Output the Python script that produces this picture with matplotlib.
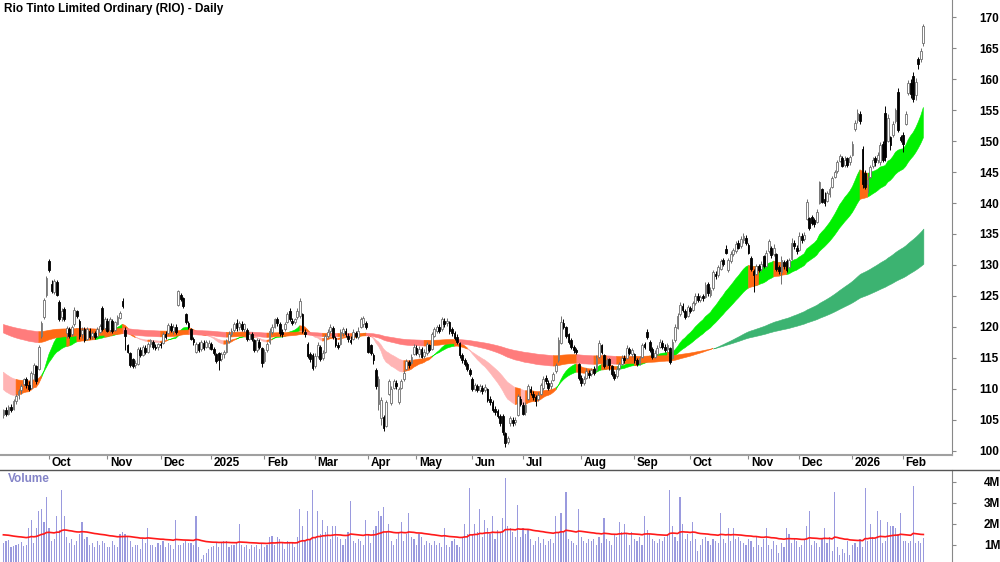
import numpy as np
import pandas as pd
import matplotlib
matplotlib.use('Agg')
import matplotlib.pyplot as plt
from matplotlib.lines import Line2D

plt.rcParams['font.family'] = ['Liberation Sans', 'DejaVu Sans']

title = 'Rio Tinto Limited Ordinary (RIO) - Daily'
start_date, end_date = '2024-09-05', '2026-02-12'
# ASX market holidays in the range
holidays = ['2024-12-25', '2024-12-26', '2025-01-01', '2025-01-27', '2025-04-18',
            '2025-04-21', '2025-04-25', '2025-06-09', '2025-12-25', '2025-12-26',
            '2026-01-01', '2026-01-26']

# daily OHLC
opens = [
    105.8,106.5,106.0,107.0,106.8,108.0,109.0,109.8,110.8,111.5,110.6,110.2,112.4,113.6,113.2,118.6,121.6,125.1,130.6,
    127.0,125.6,127.2,124.0,121.6,122.9,119.0,119.6,118.8,120.5,122.5,121.0,118.8,119.6,118.0,119.4,118.5,119.0,118.5,119.2,123.0,119.8,121.0,
    119.5,121.0,119.5,120.5,121.5,124.2,119.5,117.0,115.8,114.8,113.8,114.0,116.2,115.5,116.6,116.0,117.3,117.6,116.8,116.7,117.2,
    117.4,118.8,119.0,120.2,119.3,120.0,123.6,125.2,124.6,122.0,120.6,119.6,118.0,116.0,117.2,116.4,117.4,116.8,116.8,
    117.2,116.4,115.6,115.8,114.8,115.6,116.0,117.7,118.8,119.5,120.6,119.9,120.5,119.6,119.5,118.1,118.8,117.8,116.3,117.6,116.6,
    114.5,116.3,117.6,119.2,120.0,121.3,120.5,119.2,119.6,120.8,122.6,121.0,120.8,121.6,121.8,122.0,119.2,117.2,115.6,115.5,
    113.6,115.3,116.8,115.0,116.0,118.5,119.4,119.8,118.2,117.0,117.2,119.0,119.4,118.6,117.8,118.0,119.0,118.4,120.0,120.4,120.6,
    118.4,117.0,115.4,113.0,107.6,105.2,105.4,104.0,109.2,107.7,110.2,111.0,107.8,110.2,111.5,113.2,114.3,114.2,115.6,116.6,115.6,
    116.4,115.3,115.8,117.0,116.4,118.6,119.4,120.0,119.6,121.0,120.6,120.8,119.6,119.0,118.4,117.4,115.4,114.6,114.0,113.0,
    111.6,110.0,110.4,109.8,110.2,109.8,110.0,108.4,107.8,106.8,106.4,105.6,105.6,102.8,101.4,104.4,105.0,104.6,105.8,108.4,107.4,
    106.2,108.4,110.0,109.2,108.6,108.4,109.2,110.2,111.8,111.0,110.4,111.4,112.8,114.6,117.4,120.6,120.0,118.8,117.8,116.8,116.2,114.0,111.8,
    111.0,111.8,112.6,112.4,113.2,113.0,115.2,117.0,115.4,114.0,114.8,113.6,112.4,112.0,113.4,114.0,115.0,115.0,116.4,115.6,115.6,
    114.6,114.2,115.2,117.2,119.2,117.6,116.4,115.2,115.6,116.8,117.4,116.8,116.4,116.6,115.0,117.8,119.8,122.0,123.4,122.6,121.8,
    123.0,122.8,123.8,125.0,124.4,125.0,124.8,127.0,125.2,126.2,128.6,128.4,129.4,130.8,132.6,129.2,130.6,131.8,132.2,133.6,133.0,134.0,134.4,
    133.2,131.2,129.0,128.6,129.8,129.4,131.4,129.8,132.2,132.8,131.8,131.8,129.6,128.8,130.4,130.6,129.6,131.0,133.6,132.8,
    132.4,134.6,134.2,137.4,137.6,137.8,137.2,137.0,140.0,142.2,140.6,140.4,141.4,142.6,144.2,145.2,146.8,147.2,146.2,147.2,146.6,147.8,152.0,
    153.4,154.4,148.8,144.8,143.0,144.2,146.0,147.2,147.0,146.6,149.6,154.6,150.0,150.6,151.0,153.2,158.0,150.6,151.0,152.8,157.8,
    159.4,160.6,157.4,163.2,163.2,165.8]
highs = [
    106.8,107.0,107.3,107.6,108.3,109.2,110.0,110.8,111.8,111.9,111.2,112.8,114.2,113.8,117.0,121.0,124.6,128.2,131.0,
    127.5,127.8,127.5,124.3,123.0,123.2,120.1,120.0,120.3,123.2,122.8,121.2,119.9,119.9,119.9,119.8,119.4,119.3,119.9,120.5,123.4,121.6,121.4,
    121.6,121.3,121.0,121.9,122.5,124.6,120.0,117.2,116.0,115.0,114.6,116.8,116.7,117.1,117.0,117.5,118.0,117.9,117.3,117.4,117.6,
    119.2,119.4,120.7,120.6,120.5,120.4,126.0,125.5,124.9,122.3,121.0,119.8,118.4,117.6,117.5,117.9,117.8,117.9,117.8,
    117.6,116.8,115.8,116.0,116.0,116.3,118.0,119.3,119.8,120.8,121.2,121.0,121.0,120.7,119.8,119.2,119.2,118.0,118.2,118.0,116.8,
    116.5,117.6,119.8,120.4,121.5,121.6,120.8,119.6,120.8,122.4,123.0,121.4,121.5,123.0,124.6,122.3,119.6,117.5,116.0,115.8,
    115.7,117.5,117.0,116.2,118.9,119.6,120.4,120.2,118.6,117.5,119.6,120.0,119.8,119.0,118.5,119.6,119.4,119.9,121.6,121.8,121.0,
    118.6,117.3,115.8,113.3,112.0,108.6,105.7,108.2,111.5,110.4,111.6,111.4,110.3,111.5,113.0,114.8,114.7,115.6,117.2,117.0,116.9,
    116.8,116.4,117.5,117.3,119.2,119.9,120.3,120.4,121.6,121.5,121.4,121.0,120.0,119.4,118.8,117.6,115.8,115.0,114.4,113.4,
    111.9,110.9,110.8,110.8,110.6,110.7,110.2,108.8,108.2,107.2,106.8,106.0,106.0,103.0,102.4,105.6,105.4,105.4,109.2,108.8,107.8,
    107.8,110.7,110.4,109.6,109.0,109.4,111.0,112.0,112.2,111.4,111.4,112.7,114.2,118.3,121.8,121.3,120.2,119.0,118.2,117.0,116.6,114.2,112.2,
    112.0,113.3,113.0,113.4,113.6,115.4,117.8,117.2,115.6,115.0,115.0,113.8,112.8,113.6,114.4,115.4,115.4,117.0,116.8,116.6,115.8,
    115.0,115.3,117.4,117.6,119.6,117.8,116.8,116.2,117.0,118.0,117.8,117.2,117.4,116.8,118.0,120.4,122.2,124.0,123.9,122.9,123.6,
    123.4,124.2,125.4,125.5,125.2,125.3,127.2,127.3,126.4,129.2,129.0,130.0,131.0,131.2,133.2,131.2,132.2,132.8,133.8,134.0,134.6,135.2,134.8,
    133.6,131.4,129.4,130.2,130.2,130.6,131.6,132.4,134.2,133.0,133.4,132.0,130.0,131.4,130.8,130.9,131.2,134.3,134.0,133.2,
    135.3,135.2,135.4,140.6,137.8,138.0,137.6,139.0,143.6,142.4,141.8,142.0,142.6,144.4,145.4,147.0,148.0,147.6,147.6,147.4,147.8,150.0,153.4,
    155.2,154.8,149.2,145.4,144.4,146.2,147.4,147.6,148.2,149.8,150.0,155.6,154.4,150.8,153.2,155.4,158.6,151.0,151.4,154.8,159.8,
    160.0,161.2,160.2,163.6,165.0,169.0]
lows = [
    105.2,105.6,105.7,106.2,106.5,107.6,108.4,109.2,110.4,110.2,109.6,110.0,111.4,110.8,113.0,118.2,121.3,124.8,128.9,
    125.5,125.3,125.0,121.0,121.0,120.9,118.2,118.2,118.5,120.2,121.4,118.0,118.2,117.5,117.8,118.0,118.1,118.0,118.3,119.0,119.4,119.5,119.2,
    119.2,119.0,119.4,120.3,121.3,123.1,116.2,115.7,113.5,113.3,113.3,113.8,115.2,115.3,115.6,115.8,116.8,116.5,116.3,116.3,116.6,
    117.2,118.0,118.8,119.2,118.8,118.8,123.3,124.2,123.0,120.5,119.6,117.8,117.0,115.8,116.0,116.1,116.3,116.6,116.5,
    116.2,115.5,114.2,113.0,114.5,115.0,115.8,117.4,118.5,119.2,119.4,119.5,119.4,119.2,117.7,117.8,117.7,115.9,116.0,116.5,113.5,
    114.2,116.0,117.3,118.9,119.8,120.2,118.6,118.4,119.4,120.6,120.9,120.3,120.5,121.3,121.5,119.0,118.3,115.0,114.4,113.0,
    113.3,115.0,114.5,114.6,115.8,118.2,119.0,118.0,116.8,116.4,117.0,118.6,118.4,117.6,117.3,117.8,118.2,118.0,119.8,120.0,119.6,
    115.8,115.5,114.0,110.0,106.5,104.2,103.2,103.8,109.0,107.4,109.9,110.0,107.5,109.9,111.3,113.0,113.4,114.0,115.4,115.4,115.2,
    114.9,115.0,115.5,115.9,116.2,118.3,119.0,119.0,119.4,120.0,120.2,118.8,118.6,117.8,117.2,115.0,114.2,113.6,112.8,112.0,
    109.7,109.6,109.4,109.5,109.2,109.4,107.8,107.4,106.2,105.8,105.2,104.0,102.6,100.6,101.0,104.0,104.0,104.2,105.6,107.2,105.7,
    105.8,108.2,109.0,108.2,107.2,108.0,109.0,109.8,110.8,109.8,110.0,111.2,112.6,114.4,117.2,119.6,118.2,117.3,116.5,115.8,115.6,111.4,110.5,
    110.6,111.5,111.8,112.0,112.3,112.8,115.0,115.6,113.3,113.6,113.0,112.0,111.4,111.8,113.0,113.8,114.2,114.8,115.4,115.2,114.2,
    113.6,113.8,115.0,116.4,118.0,115.9,114.8,114.9,115.4,116.6,116.4,115.9,116.0,114.0,114.8,117.6,119.6,121.8,122.4,121.2,121.6,
    122.2,122.6,123.6,124.0,124.0,124.2,124.6,125.0,124.9,126.0,127.8,128.0,129.2,129.8,131.8,128.9,130.3,131.4,132.0,132.6,132.8,133.6,133.3,
    131.8,129.0,125.6,128.3,128.8,129.0,129.5,129.6,132.0,131.2,131.4,129.0,128.6,127.0,129.4,128.8,129.4,130.8,132.6,131.8,
    132.2,133.6,133.8,137.2,135.6,136.4,136.2,136.8,139.8,140.0,139.6,140.2,141.0,142.4,144.0,144.8,146.6,145.8,145.8,145.8,146.2,147.6,151.6,
    153.0,152.8,142.4,142.2,141.6,144.0,145.6,146.0,146.4,146.2,146.6,146.8,149.8,148.6,150.6,153.0,151.4,149.8,148.2,152.6,157.4,
    157.0,156.4,156.6,161.6,162.8,165.4]
closes = [
    106.5,105.9,107.0,106.6,108.0,108.9,109.6,110.5,111.5,110.6,110.0,112.5,113.8,111.2,116.8,120.7,124.3,127.9,129.2,
    125.8,127.4,125.2,121.2,122.6,121.2,119.8,118.6,120.0,122.8,121.8,118.5,119.5,117.8,119.6,118.4,119.0,118.3,119.6,120.2,119.6,121.3,119.4,
    121.2,119.3,120.8,121.6,122.2,123.4,118.5,115.9,113.8,113.6,114.2,116.4,115.5,116.8,116.0,117.2,117.8,116.8,116.6,117.2,117.0,
    118.8,118.4,120.3,119.5,120.0,119.2,125.8,124.5,123.4,120.8,120.0,118.1,117.6,117.3,116.3,117.6,116.6,117.5,117.4,
    116.5,115.8,114.5,114.6,115.6,116.0,117.6,118.9,119.4,120.4,119.8,120.6,119.7,120.4,118.0,118.8,118.0,116.2,117.8,116.8,114.2,
    116.0,117.2,119.4,120.0,121.2,120.6,119.0,118.8,120.4,122.0,121.2,120.6,121.2,122.6,124.2,119.4,118.8,115.3,114.8,113.4,
    115.3,117.1,114.8,115.8,118.6,119.2,120.0,118.4,117.0,116.8,119.2,119.6,118.8,118.0,117.6,119.2,118.6,119.4,121.2,121.4,120.0,
    116.0,115.8,114.6,110.4,111.6,108.2,103.6,107.8,111.2,110.0,111.3,110.4,110.0,111.2,112.6,114.5,113.8,115.2,116.8,115.8,116.5,
    115.2,116.0,117.2,116.2,118.8,119.6,120.0,119.4,121.2,120.4,121.0,119.4,119.0,118.2,117.6,115.4,114.6,114.0,113.2,112.4,
    110.0,110.6,109.8,110.4,109.6,110.3,108.2,107.8,106.6,106.2,105.6,104.4,103.0,101.2,102.0,105.2,104.4,105.0,108.8,107.6,106.0,
    107.4,110.4,109.4,108.6,108.0,109.0,110.6,111.6,111.2,110.2,111.0,112.4,113.8,117.8,120.8,120.0,118.6,117.6,116.8,116.2,116.0,111.8,111.0,
    111.6,112.8,112.2,113.0,112.6,115.0,117.4,116.0,113.6,114.6,113.8,112.4,111.8,113.2,114.0,115.0,114.6,116.6,115.8,116.2,114.6,
    114.0,115.0,117.0,116.8,118.4,116.2,115.2,115.8,116.6,117.6,116.8,116.2,117.0,114.4,117.6,120.0,121.8,123.6,122.8,121.6,123.2,
    122.6,123.8,125.0,124.4,124.8,124.6,126.8,125.4,126.0,128.8,128.2,129.6,130.6,130.2,132.0,130.8,131.8,132.4,133.4,132.8,134.2,134.6,133.6,
    132.0,129.4,128.4,129.8,129.2,130.2,129.8,132.0,133.8,131.6,132.8,129.4,129.0,130.8,129.8,129.2,130.8,133.6,133.0,132.2,
    134.6,134.0,134.8,140.2,136.0,136.8,136.6,138.6,143.4,140.2,140.0,141.6,142.2,144.0,145.0,146.6,147.6,146.0,147.0,146.2,147.4,149.6,153.0,
    154.6,153.2,143.0,142.6,143.8,145.8,147.0,146.6,147.8,149.4,147.0,147.4,153.8,149.4,152.8,155.0,151.8,150.2,149.6,154.4,159.4,
    157.6,156.8,159.6,162.4,164.6,168.6]

# daily volume in millions
volumes = [
    1.1,1.2,1.25,0.9,0.95,1.0,1.05,1.15,0.95,1.0,1.8,2.2,1.1,1.8,2.6,2.7,2.1,3.3,1.8,1.2,
    1.3,2.4,1.7,3.6,2.4,1.4,1.1,1.3,1.0,1.2,1.5,2.1,1.3,1.4,1.0,1.1,0.9,1.2,1.0,1.2,
    1.1,0.9,0.9,1.2,1.0,0.9,1.5,1.6,1.5,1.4,1.2,0.9,1.0,1.0,0.8,1.3,1.1,1.8,1.0,1.0,
    0.9,1.1,1.0,1.2,0.9,1.1,1.0,0.8,2.2,1.0,1.0,1.1,1.2,1.1,1.1,1.0,2.4,0.9,0.35,0.5,
    0.6,0.8,0.9,0.95,1.1,0.9,1.1,1.2,1.2,0.9,1.0,1.0,1.1,2.0,1.0,0.9,1.0,0.8,1.0,0.9,
    1.0,0.8,1.1,0.9,1.0,1.4,1.45,1.0,1.4,1.3,1.1,0.8,1.2,1.1,1.1,0.9,1.4,2.7,1.9,1.2,
    2.6,1.3,3.6,1.4,2.6,1.5,2.2,1.6,1.9,1.3,1.9,1.9,1.4,1.3,1.0,1.3,1.6,3.1,1.2,1.1,
    1.3,1.2,1.0,2.2,1.5,1.1,1.7,1.9,2.6,2.4,2.8,1.6,2.0,1.2,1.0,1.3,1.6,2.1,1.2,1.5,
    2.5,1.4,1.3,1.0,1.5,1.4,1.0,1.2,1.1,1.0,1.2,1.0,1.1,0.9,1.8,1.0,0.9,1.2,1.3,1.0,
    0.9,1.4,2.0,1.5,3.7,1.5,2.0,1.6,2.7,1.4,2.2,1.8,1.5,2.4,1.3,1.7,1.6,2.3,4.2,1.9,
    1.8,1.6,1.4,2.9,1.4,1.8,1.5,1.7,1.3,1.0,1.2,1.4,1.1,1.3,1.0,1.2,1.3,1.1,2.4,1.6,
    2.5,1.6,3.5,1.3,1.2,1.1,1.0,2.7,1.4,1.2,1.1,1.3,1.2,1.3,1.0,1.4,1.1,2.3,1.3,1.2,
    1.0,1.5,1.4,2.1,1.6,2.0,1.5,1.0,1.6,1.3,1.2,1.4,1.0,2.4,1.7,1.5,1.3,1.2,1.1,1.3,
    1.2,1.4,1.5,3.6,1.9,1.4,1.2,3.3,2.0,1.3,1.5,1.2,2.1,1.3,0.7,1.0,1.3,1.4,1.2,1.0,
    1.3,1.2,1.1,2.5,1.3,1.1,1.8,1.2,1.8,1.3,1.4,1.2,1.1,1.0,1.3,1.2,0.9,1.4,1.0,0.9,
    1.3,1.8,1.0,0.8,1.2,1.0,0.6,1.1,0.9,1.8,1.5,1.1,1.3,1.2,0.9,1.0,1.3,1.9,2.6,1.0,
    1.2,1.1,0.9,1.3,1.8,1.1,1.4,0.7,3.5,0.9,0.5,0.8,0.6,1.2,0.5,1.0,1.1,0.9,1.3,0.9,
    3.7,1.2,2.0,1.4,1.3,2.6,2.2,1.1,1.2,2.1,1.9,1.9,1.8,1.5,2.5,1.2,1.2,1.1,1.2,3.8,
    1.1,1.2,1.1,1.35]

# moving average bands: (fast, slow) spans and their levels just before the first bar
short_spans = [21, 40]
short_seed = [110.2, 113.0]
long_spans = [140, 230]
long_seed = [119.2, 120.5]
vol_ma_span = 50
vol_ma_seed = 1.5


def ema(values, span, seed):
    a = 2.0 / (span + 1)
    out = np.empty(len(values))
    prev = seed
    for i, v in enumerate(values):
        prev = prev + a * (v - prev)
        out[i] = prev
    return out


o, h, l, c = map(np.array, (opens, highs, lows, closes))
vol = np.array(volumes)
n = len(c)
x = np.arange(n)

dates = pd.bdate_range(start_date, end_date)
dates = dates[~dates.isin(pd.to_datetime(holidays))][:n]

W, H = 1000, 562
fig = plt.figure(figsize=(10, 5.62), dpi=100)
ax = fig.add_axes([0, 1 - 455 / H, 952 / W, 455 / H])
axv = fig.add_axes([0, 0, 952 / W, 92 / H])


def band(spans, seeds, colors, z):
    fast = ema(c, spans[0], seeds[0])
    slow = ema(c, spans[1], seeds[1])
    lo, hi = np.minimum(fast, slow), np.maximum(fast, slow)
    fs = np.diff(fast, prepend=seeds[0])
    ss = np.diff(slow, prepend=seeds[1])
    # 0 = bullish (fast above, both rising), 1 = bearish, 2 = mixed
    bull = (fast > slow) & (fs > 0) & (ss > 0)
    bear = (fast < slow) & (fs < 0) & (ss < 0)
    cat = np.where(bull, 0, np.where(bear, 1, 2))
    for k, col in enumerate(colors):
        m = cat == k
        m = m | np.r_[m[1:], False]
        ax.fill_between(x, lo, hi, where=m, color=col, lw=0.4, zorder=z)


band(short_spans, short_seed, ['#00f000', '#ffb4b4', '#ff6a14'], 1)
band(long_spans, long_seed, ['#3cb371', '#ff7c7c', '#ff6a14'], 1.5)

# candles
up = c >= o
ax.vlines(x[up], l[up], h[up], color='#6e6e6e', lw=0.7, zorder=2)
ax.vlines(x[~up], l[~up], h[~up], color='black', lw=0.7, zorder=2)
ax.bar(x[up], (c - o)[up], bottom=o[up], width=0.7, color='white',
       edgecolor='#6e6e6e', linewidth=0.6, zorder=3)
ax.bar(x[~up], (c - o)[~up], bottom=o[~up], width=0.7, color='black',
       edgecolor='black', linewidth=0.6, zorder=3)

ax.set_xlim(-1.34, 374.3)
ax.set_ylim(99.3, 172.8)
ax.yaxis.tick_right()
ax.set_yticks(np.arange(100, 171, 5))
ax.tick_params(axis='y', length=3, color='#888888', pad=16.5, labelsize=8.5)
for t in ax.get_yticklabels():
    t.set_fontweight('bold')
for s in ['left', 'top']:
    ax.spines[s].set_visible(False)
ax.spines['bottom'].set_color('#a0a0a0')
ax.spines['bottom'].set_linewidth(1.5)
ax.spines['right'].set_color('#888888')

# month ticks
mpos = [i for i in range(1, n) if dates[i].month != dates[i - 1].month]
mlab = [str(dates[i].year) if dates[i].month == 1 else dates[i].strftime('%b') for i in mpos]
ax.set_xticks(mpos)
ax.set_xticklabels([])
ax.tick_params(axis='x', length=3, color='#888888')
for p, lab in zip(mpos, mlab):
    ax.text(p + 1.0, -0.0165, lab, transform=ax.get_xaxis_transform(),
            ha='left', va='center', fontsize=8.5, fontweight='bold')

ax.text(0.004, 0.981, title, transform=ax.transAxes, ha='left', va='center',
        fontsize=8.5, fontweight='bold')

fig.add_artist(Line2D([0, 1], [1 - 469.5 / H] * 2, color='#555555', lw=1))

# volume panel
axv.bar(x, vol, width=0.45, color='#9a9ade', zorder=1)
vol_ma = ema(vol, vol_ma_span, vol_ma_seed)
axv.plot(x, vol_ma, color='#ff1a1a', lw=1.2, zorder=2)
axv.set_xlim(-1.34, 374.3)
axv.set_ylim(0.19, 4.57)
axv.yaxis.tick_right()
axv.set_yticks([1, 2, 3, 4])
axv.set_yticklabels(['1M', '2M', '3M', '4M'])
axv.tick_params(axis='y', length=3, color='#888888', pad=20, labelsize=8.5)
for t in axv.get_yticklabels():
    t.set_fontweight('bold')
axv.set_xticks([])
for s in ['left', 'top', 'bottom']:
    axv.spines[s].set_visible(False)
axv.spines['right'].set_color('#888888')
axv.text(0.008, 0.9, 'Volume', transform=axv.transAxes, ha='left', va='center',
         fontsize=8.5, fontweight='bold', color='#8484c8')

fig.savefig('out.png', dpi=100)
